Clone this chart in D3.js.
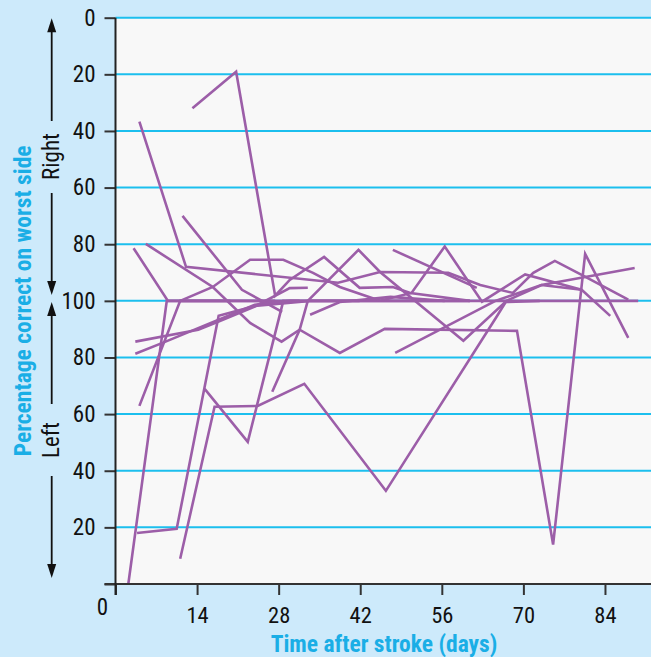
<!DOCTYPE html>
<html><head><meta charset="utf-8">
<script src="https://cdn.jsdelivr.net/npm/d3@7"></script>
<style>
html,body{margin:0;padding:0;background:#cdeafb;}
svg{display:block;}
text{font-family:"Liberation Sans Narrow","Arial Narrow","Roboto Condensed",sans-serif;}
</style></head>
<body>
<svg id="chart" width="651" height="657"></svg>
<script>
// Scale position: 0 = 0% correct (right side, top) ... 100 = 100% ... 200 = 0% correct (left side, bottom)
const yTickValues = [0,20,40,60,80,100,120,140,160,180,200];
const yTickLabels = ["0","20","40","60","80","100","80","60","40","20",""];
const xTickValues = [0,14,28,42,56,70,84];
const xTickLabels = ["0","14","28","42","56","70","84"];

// Each patient: [day, position]
const patient1  = [[2.2,200],[8.8,100],[89.7,100]];
const patient2  = [[3.7,182],[10.5,180.5],[17.7,105.3],[23.9,101.8],[33.4,100],[60.8,100]];
const patient3  = [[11.1,191.1],[17.0,137.4],[24.4,137.1],[32.4,129.3],[46.4,167.1],[65.4,105.6],[67.1,100],[73.1,94.4],[80.0,96.1],[84.9,105.3]];
const patient4  = [[4.1,137.1],[11.1,100],[27.4,100]];
const patient5  = [[3.4,118.7],[8.5,114.5],[14.8,109.1],[23.9,101.4],[29.9,100],[41.9,100]];
const patient6  = [[3.4,114.4],[14.2,110.2],[17.7,107.3],[23.9,102],[29.9,95.5],[33.0,95.4]];
const patient7  = [[3.1,81.4],[9.0,100],[19.7,100]];
const patient8  = [[5.2,79.9],[16.7,95.1],[23.1,107.8],[28.5,114.4],[31.6,110.2],[38.5,118.4],[46.2,109.9],[68.9,110.6],[75.1,186.1],[80.6,83.4],[88.0,113.1]];
const patient9  = [[13.2,32.0],[20.7,19.1],[27.4,98.2],[29.9,92.6],[35.8,84.5],[41.9,95.4],[47.6,95.1],[50.6,97.2],[60.8,100]];
const patient10 = [[4.1,36.7],[12.1,88.0],[38.2,93.6],[45.4,89.8],[57.1,90.1],[62.6,94.4],[68.2,97.2],[71.7,90.1],[75.4,85.9],[80.0,90.8],[88.0,99.6]];
const patient11 = [[11.1,100],[16.7,95.1],[23.1,85.5],[28.8,85.5],[33.9,90.1],[38.5,95.1],[45.4,100]];
const patient12 = [[15.3,131.1],[22.7,149.8],[28.8,100],[31.6,100]];
const patient13 = [[26.9,132.1],[31.6,110.2],[33.0,100],[41.7,82.0],[45.4,89.8],[59.7,114.1],[66.9,100.4],[72.8,100]];
const patient14 = [[47.6,82.0],[62.0,95.4]];
const patient15 = [[11.5,70.0],[21.7,96.1],[28.6,103.9]];
const patient16 = [[33.4,104.9],[38.5,100.4],[47.2,98.6],[56.5,100]];
const patient17 = [[48.0,118.4],[65.2,100],[73.1,94.4],[89.1,88.4]];
const patient18 = [[45.4,100],[50.8,97.2],[56.5,80.8],[62.9,100.3],[70.3,90.7],[80.0,96.1]];
const patients = [patient1,patient2,patient3,patient4,patient5,patient6,patient7,patient8,patient9,
  patient10,patient11,patient12,patient13,patient14,patient15,patient16,patient17,patient18];

const svg = d3.select("#chart");
const x = d3.scaleLinear().domain([0,91.9]).range([115.5,651]);
const y = d3.scaleLinear().domain([0,200]).range([17.7,584]);

// plot background
svg.append("rect").attr("x",x(0)).attr("y",y(0)).attr("width",651-x(0)).attr("height",y(200)-y(0)).attr("fill","#f8f8f8");

// grid lines
svg.append("g").selectAll("line").data(yTickValues.filter(v=>v<200)).join("line")
  .attr("x1",x(0)).attr("x2",651).attr("y1",d=>y(d)).attr("y2",d=>y(d))
  .attr("stroke","#1cbfee").attr("stroke-width",2);

// series
const line = d3.line().x(d=>x(d[0])).y(d=>y(d[1]));
svg.append("g").selectAll("path").data(patients).join("path")
  .attr("d",line).attr("fill","none").attr("stroke","#9c5ea8").attr("stroke-width",2.6)
  .attr("stroke-linejoin","miter");

// axes
const yAxis = d3.axisLeft(y).tickValues(yTickValues).tickFormat((d,i)=>yTickLabels[i]).tickSize(11).tickSizeOuter(0).tickPadding(9);
const gy = svg.append("g").attr("transform",`translate(${x(0)},0)`).call(yAxis);
gy.select(".domain").remove();
gy.selectAll(".tick line").attr("stroke","#333").attr("stroke-width",2);
gy.selectAll(".tick text").attr("font-size",23).attr("fill","#111");

const xAxis = d3.axisBottom(x).tickValues(xTickValues).tickFormat((d,i)=>i===0?"":xTickLabels[i]).tickSize(11).tickSizeOuter(0).tickPadding(12);
const gx = svg.append("g").attr("transform",`translate(0,${y(200)})`).call(xAxis);
gx.select(".domain").remove();
gx.selectAll(".tick line").attr("stroke","#333").attr("stroke-width",2);
gx.selectAll(".tick text").attr("font-size",22.5).attr("fill","#111");
svg.append("text").attr("x",x(0)-13).attr("y",615).attr("text-anchor","middle")
  .attr("font-size",23).attr("fill","#111").text(xTickLabels[0]);

// axis lines
svg.append("line").attr("x1",x(0)-11).attr("x2",651).attr("y1",y(200)).attr("y2",y(200)).attr("stroke","#333").attr("stroke-width",2);
svg.append("line").attr("x1",x(0)).attr("x2",x(0)).attr("y1",y(0)).attr("y2",y(200)+11).attr("stroke","#222").attr("stroke-width",2);

// titles
svg.append("text").attr("x",384).attr("y",652).attr("text-anchor","middle")
  .attr("font-size",23.5).attr("font-weight","bold").attr("fill","#1aaee6").text("Time after stroke (days)");
svg.append("text").attr("transform",`translate(30.5,${y(100)}) rotate(-90)`).attr("text-anchor","middle")
  .attr("font-size",23.5).attr("font-weight","bold").attr("fill","#1aaee6").text("Percentage correct on worst side");

// side labels with arrows
const ax = 51.7;
function arrow(y1,y2){ // from y1 to tip y2
  svg.append("line").attr("x1",ax).attr("x2",ax).attr("y1",y1).attr("y2",y2+(y2<y1?10:-10)).attr("stroke","#111").attr("stroke-width",1.8);
  const dir = y2<y1?1:-1;
  svg.append("path").attr("d",`M${ax},${y2} L${ax-4.5},${y2+dir*14} L${ax+4.5},${y2+dir*14} Z`).attr("fill","#111");
}
arrow(121,18.3); arrow(193,295); arrow(404,302); arrow(476,578);
svg.append("text").attr("transform",`translate(59,156.5) rotate(-90)`).attr("text-anchor","middle")
  .attr("font-size",23).attr("fill","#111").text("Right");
svg.append("text").attr("transform",`translate(59,440) rotate(-90)`).attr("text-anchor","middle")
  .attr("font-size",23).attr("fill","#111").text("Left");
</script>
</body></html>
